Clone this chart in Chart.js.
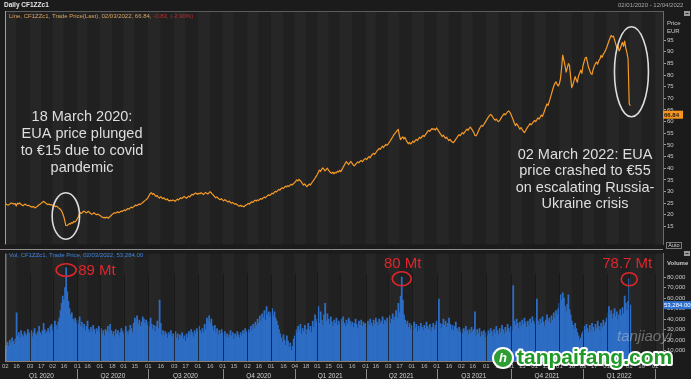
<!DOCTYPE html>
<html><head><meta charset="utf-8">
<script src="https://cdn.jsdelivr.net/npm/chart.js@4"></script>
<style>
html,body{margin:0;padding:0;background:#1b1b1b;}
#wrap{position:relative;width:691px;height:379px;overflow:hidden;background:#1b1b1b;}
#top{position:absolute;left:0;top:0;}
#bot{position:absolute;left:0;top:249px;}
</style></head><body>
<div id="wrap"><canvas id="top" width="691" height="249"></canvas><canvas id="bot" width="691" height="130"></canvas></div>
<script>
// ---------- categories (ICE trading days) ----------
const axisStart = '2020-01-02';
const axisEnd = '2022-04-12';
const holidays = ['2020-01-01','2020-04-10','2020-04-13','2020-12-25','2020-12-28',
  '2021-01-01','2021-04-02','2021-04-05','2021-12-27','2021-12-28'];

// ---------- price series (EUR), daily, 02/01/2020 .. 02/03/2022 ----------
const priceEUR = [
 // 2020 Jan
 24.4,24.6,24.3,24.2,24.5,24.9,25.1,24.8,24.6,24.9,23.8,25.0,24.7,25.1,24.5,24.2,23.9,24.3,24.6,24.2,23.9,24.1,
 // Feb
 23.8,23.5,23.3,23.6,23.2,23.0,23.4,23.8,24.2,24.5,24.9,25.3,25.8,25.5,25.1,24.7,24.4,24.6,24.3,24.4,
 // Mar
 24.1,23.8,23.9,23.5,23.7,23.2,22.8,22.4,21.9,20.8,19.5,17.6,15.4,15.3,15.8,16.2,16.0,16.7,16.4,17.2,16.9,17.4,
 // Apr
 18.2,19.1,20.3,20.9,20.6,21.2,21.6,21.3,20.8,21.1,21.5,21.0,20.6,20.2,20.5,20.9,20.4,20.0,20.3,20.1,
 // May
 19.8,19.5,19.1,18.8,18.9,18.6,19.0,18.8,18.6,19.2,19.6,20.1,20.5,20.9,20.7,21.0,21.3,20.9,21.2,21.6,21.4,
 // Jun
 21.8,22.1,21.8,22.3,22.7,22.4,22.9,23.3,23.0,23.4,23.8,24.2,23.9,24.3,24.6,24.4,24.8,25.2,25.6,26.0,26.4,26.8,
 // Jul
 27.5,28.4,29.2,29.4,28.8,29.1,28.5,27.9,28.3,27.6,27.2,27.8,27.4,26.9,27.3,26.8,26.4,26.8,26.2,25.9,26.3,26.0,26.4,
 // Aug
 26.1,25.8,26.3,26.7,26.4,26.9,27.3,27.0,27.4,27.9,27.5,27.1,27.6,28.0,27.7,28.3,28.8,28.5,29.0,29.4,29.1,
 // Sep
 28.8,29.3,29.0,29.5,29.2,28.7,29.1,29.6,29.3,28.9,29.4,29.9,29.5,28.9,28.4,27.8,27.3,27.7,27.2,26.8,26.5,26.9,
 // Oct
 26.4,26.0,26.5,26.2,25.8,25.5,25.9,25.4,25.0,25.3,24.9,24.5,24.8,24.3,24.0,23.7,24.1,23.6,23.8,23.4,23.9,24.2,
 // Nov
 24.5,24.9,24.6,25.2,25.6,25.3,25.9,26.3,25.9,26.4,26.1,26.6,27.0,26.7,27.2,27.6,27.3,27.8,28.2,28.6,28.3,
 // Dec
 28.8,29.3,29.0,29.6,30.1,29.8,30.4,30.9,30.6,31.2,31.6,31.3,31.8,32.3,32.0,32.5,32.2,32.7,33.1,32.8,33.4,
 // 2021 Jan
 33.8,34.4,35.0,34.6,35.2,34.7,34.1,33.4,32.8,33.3,32.6,32.1,32.7,33.2,32.8,33.5,34.2,34.9,35.6,36.4,
 // Feb
 37.2,38.1,39.2,38.6,39.5,40.1,39.6,38.9,39.4,40.0,39.3,38.6,38.1,37.8,38.3,37.6,38.2,38.0,38.7,38.4,
 // Mar
 39.1,38.5,39.4,40.3,41.2,42.1,42.8,42.2,41.6,42.3,42.9,42.2,41.5,41.0,41.6,42.2,42.7,42.3,42.9,43.4,42.8,43.3,43.9,
 // Apr
 44.2,43.7,44.4,45.0,44.5,45.3,45.9,46.4,46.0,46.6,47.3,47.9,48.5,48.1,48.8,49.5,48.9,49.6,50.2,49.8,
 // May
 50.4,51.1,51.8,52.6,53.4,54.3,54.9,55.5,56.1,56.7,54.2,52.3,52.9,53.5,52.6,53.2,52.1,51.2,50.5,51.1,50.4,
 // Jun
 50.9,51.6,51.1,51.8,52.4,51.9,52.6,53.3,52.8,53.5,54.1,53.6,54.3,55.0,55.7,56.3,55.8,56.5,57.1,56.6,56.9,56.4,
 // Jul
 57.3,56.6,55.8,55.1,54.4,53.6,54.2,53.5,52.8,53.3,52.5,51.9,52.4,51.7,51.2,51.0,51.6,52.4,53.1,53.8,54.4,54.0,
 // Aug
 54.7,55.3,54.8,55.5,56.2,56.8,56.3,57.1,57.6,57.0,56.2,55.4,54.2,53.9,54.6,55.8,56.9,57.7,58.4,58.0,58.8,59.6,
 // Sep
 60.4,61.2,62.0,62.6,63.1,62.7,61.9,61.2,60.6,61.1,60.4,60.0,60.5,61.3,62.1,62.8,63.4,62.9,63.6,64.2,64.6,64.1,
 // Oct
 63.2,62.0,60.8,59.4,58.3,59.1,58.5,57.6,56.8,57.5,56.6,55.9,55.3,56.1,57.0,57.8,58.4,59.2,58.6,59.3,59.9,
 // Nov
 60.5,60.0,60.8,61.6,61.1,61.9,62.8,62.3,63.5,64.9,66.3,67.6,67.0,68.6,70.2,71.9,73.6,75.2,76.4,77.1,76.0,75.3,
 // Dec
 76.2,78.4,83.1,88.6,86.4,84.2,81.3,83.0,84.9,84.1,79.2,74.6,75.8,77.4,79.3,78.1,76.9,79.6,80.8,82.1,80.7,
 // 2022 Jan
 84.0,85.8,87.4,87.6,85.3,83.1,81.9,80.6,80.3,82.4,83.8,84.9,85.6,84.7,86.2,86.9,88.4,87.6,88.9,89.7,90.6,
 // Feb
 91.8,93.2,94.6,95.9,97.0,96.4,96.7,95.1,93.4,91.8,92.6,90.4,91.2,92.8,94.1,92.3,94.6,91.6,89.6,86.9,
 // Mar
 67.67,66.84
];

// ---------- volume series (thousand lots), daily ----------
const volumeK = [
 // 2020 Jan
 11,15,18,14,20,17,22,19,16,21,46,24,27,22,29,25,23,28,26,24,30,27,
 // Feb
 25,29,23,27,31,26,24,28,33,27,25,29,36,30,26,28,31,27,33,35,
 // Mar
 29,32,38,34,30,37,41,48,55,62,58,70,89,66,57,50,44,46,40,38,41,36,
 // Apr
 39,35,42,33,37,31,35,29,33,38,30,27,32,28,34,30,26,31,29,33,
 // May
 27,31,26,29,24,30,28,33,27,35,29,25,28,23,30,26,29,24,27,31,28,
 // Jun
 26,30,33,28,25,29,34,31,27,36,41,38,43,35,39,33,37,42,40,36,39,34,
 // Jul
 37,32,41,35,30,34,28,33,38,31,58,36,25,29,24,28,26,22,27,25,29,23,26,
 // Aug
 24,28,22,26,20,25,23,27,21,24,19,26,22,28,25,30,27,23,29,26,31,
 // Sep
 28,33,29,26,31,27,35,30,41,38,43,36,40,33,29,34,27,31,25,29,26,30,
 // Oct
 27,24,28,23,26,22,25,29,24,27,21,26,23,28,25,22,27,24,29,26,31,28,
 // Nov
 25,30,27,33,29,35,31,37,34,40,36,43,38,45,41,48,39,52,44,47,42,
 // Dec
 46,50,43,47,41,38,34,30,26,22,18,25,20,15,24,19,13,17,10,14,21,
 // 2021 Jan
 24,30,27,33,29,35,26,31,28,34,25,30,36,29,33,27,38,32,44,37,
 // Feb
 40,52,36,47,39,34,44,55,38,45,40,35,42,37,33,39,36,41,34,38,
 // Mar
 35,40,37,42,36,33,39,35,41,38,34,37,32,36,40,35,31,38,34,39,33,37,35,
 // Apr
 36,31,38,34,40,36,33,39,35,41,37,34,40,36,38,42,35,39,37,41,
 // May
 38,43,36,40,45,39,42,48,41,55,46,62,80,58,44,39,35,38,32,36,30,
 // Jun
 34,29,37,31,35,28,33,30,36,32,29,34,31,37,33,30,35,28,32,36,30,34,
 // Jul
 38,33,59,36,31,35,40,34,38,32,36,41,35,30,34,29,33,37,31,28,32,27,
 // Aug
 30,26,31,28,33,29,25,30,27,32,28,30,47,24,30,26,31,23,28,25,29,22,
 // Sep
 27,24,29,26,31,28,23,30,26,33,29,25,31,27,34,30,26,32,28,35,31,27,
 // Oct
 33,29,72,38,34,40,36,31,37,33,39,35,41,37,32,38,34,40,36,42,38,
 // Nov
 35,41,59,38,34,40,36,42,37,33,39,44,38,41,36,43,39,46,41,48,44,50,
 // Dec
 55,63,58,65,60,52,47,54,63,49,44,38,34,30,36,31,27,24,20,22,26,
 // 2022 Jan
 28,33,30,35,31,27,34,29,36,32,28,35,31,38,33,29,36,32,39,34,37,
 // Feb
 41,46,52,44,48,40,45,50,42,47,39,44,49,43,51,45,62,55,48,57,
 // Mar
 78.7,53.284
];

// ---------- tick labels ----------
const dayTickDates = [
 '2020-01-02','2020-01-16','2020-02-03','2020-02-17','2020-03-02','2020-03-16','2020-04-01','2020-04-16',
 '2020-05-01','2020-05-18','2020-06-01','2020-06-15','2020-07-01','2020-07-16','2020-08-03','2020-08-17',
 '2020-09-01','2020-09-16','2020-10-01','2020-10-15','2020-11-02','2020-11-16','2020-12-01','2020-12-16',
 '2021-01-04','2021-01-18','2021-02-01','2021-02-15','2021-03-01','2021-03-16','2021-04-01','2021-04-16',
 '2021-05-03','2021-05-17','2021-06-01','2021-06-16','2021-07-01','2021-07-16','2021-08-02','2021-08-16',
 '2021-09-01','2021-09-16','2021-10-01','2021-10-15','2021-11-01','2021-11-15','2021-12-01','2021-12-16',
 '2022-01-03','2022-01-17','2022-02-01','2022-02-16','2022-03-01','2022-03-16','2022-04-01'
];
const quarterLabels = ['Q1 2020','Q2 2020','Q3 2020','Q4 2020','Q1 2021','Q2 2021','Q3 2021','Q4 2021','Q1 2022',''];
const quarterStarts = ['2020-01-02','2020-04-01','2020-07-01','2020-10-01','2021-01-04','2021-04-01','2021-07-01','2021-10-01','2022-01-03','2022-04-01'];
const priceTickLabels = [15,20,25,30,35,40,45,50,55,60,65,70,75,80,85,90,95];
const volumeTickLabels = [10,20,30,40,50,60,70,80];

// ---------- build trading-day categories ----------
function tradingDays(a, b) {
  const out = [];
  const d = new Date(a + 'T00:00:00Z'), e = new Date(b + 'T00:00:00Z');
  while (d <= e) {
    const w = d.getUTCDay(), s = d.toISOString().slice(0, 10);
    if (w !== 0 && w !== 6 && !holidays.includes(s)) out.push(s);
    d.setUTCDate(d.getUTCDate() + 1);
  }
  return out;
}
const dates = tradingDays(axisStart, axisEnd);
const tickSet = new Set(dayTickDates);
const monthStarts = dates.filter((d, i) => i > 0 && d.slice(5, 7) !== dates[i - 1].slice(5, 7));

const FONT = '"Liberation Sans", Arial, sans-serif';
Chart.defaults.font.family = FONT;

function stripes(ctx, a, x) {
  const px = dayTickDates.map(d => x.getPixelForValue(dates.indexOf(d)));
  px.push(a.right);
  ctx.fillStyle = '#262626';
  for (let i = 0; i < px.length - 1; i += 2) {
    const l = Math.max(px[i], a.left), r = Math.min(px[i + 1], a.right);
    if (r > l) ctx.fillRect(l, a.top, r - l, a.bottom - a.top);
  }
}
function ell(ctx, cx, cy, rx, ry, col, lw) {
  ctx.beginPath(); ctx.ellipse(cx, cy, rx, ry, 0, 0, Math.PI * 2);
  ctx.strokeStyle = col; ctx.lineWidth = lw; ctx.stroke();
}
function txt(ctx, s, x, y, font, col, align) {
  ctx.font = font; ctx.fillStyle = col; ctx.textAlign = align || 'left'; ctx.textBaseline = 'middle';
  ctx.fillText(s, x, y);
}

// ---------- annotations ----------
const whiteNotes = [
  { idx: 54, value: 19.5, rx: 13.7, ry: 23.3 },
  { idx: 556, value: 81.4, rx: 17, ry: 45 }
];
const noteText1 = ['18 March 2020:', 'EUA price plunged', 'to €15 due to covid', 'pandemic'];
const noteText2 = ['02 March 2022: EUA', 'price crashed to €55', 'on escalating Russia-', 'Ukraine crisis'];
const redNotes = [
  { idx: 54, value: 86.7, label: '89 Mt', rx: 10, ry: 6.3, dx: 12, dy: 0.5, align: 'left' },
  { idx: 352, value: 78.4, label: '80 Mt', rx: 9.5, ry: 7, dx: 1, dy: -14.5, align: 'center' },
  { idx: 554, value: 78, label: '78.7 Mt', rx: 8, ry: 6.5, dx: -2, dy: -15, align: 'center' }
];

const topDeco = {
  id: 'topDeco',
  beforeDraw(c) {
    const { ctx, chartArea: a, scales: { x } } = c;
    ctx.save();
    ctx.fillStyle = '#1b1b1b'; ctx.fillRect(0, 0, c.width, c.height);
    ctx.fillStyle = '#202020'; ctx.fillRect(a.left, a.top, a.right - a.left, a.bottom - a.top);
    stripes(ctx, a, x);
    ctx.restore();
  },
  afterDraw(c) {
    const { ctx, chartArea: a, scales: { x, y } } = c;
    ctx.save();
    // frame
    ctx.strokeStyle = '#5c5c5c'; ctx.lineWidth = 1;
    ctx.beginPath(); ctx.moveTo(a.left, a.top + 0.5); ctx.lineTo(a.right, a.top + 0.5); ctx.stroke();
    ctx.strokeStyle = '#a0a0a0';
    ctx.beginPath(); ctx.moveTo(a.left + 0.5, a.top); ctx.lineTo(a.left + 0.5, a.bottom); ctx.stroke();
    // header
    txt(ctx, 'Daily CF1ZZc1', 4, 5.5, 'bold 6.5px ' + FONT, '#e6e6e6');
    txt(ctx, '02/01/2020 - 12/04/2022', 618, 5.5, '6px ' + FONT, '#a8a8a8');
    const leg1 = 'Line, CF1ZZc1, Trade Price(Last), 02/03/2022, 66.84, ';
    txt(ctx, leg1, 9, 16, '6px ' + FONT, '#d9a35f');
    const w1 = ctx.measureText(leg1).width;
    txt(ctx, '-0.83, (-2.90%)', 9 + w1, 16, '6px ' + FONT, '#c8292c');
    // axis title
    txt(ctx, 'Price', 667, 23.5, '6px ' + FONT, '#c8c8c8');
    txt(ctx, 'EUR', 667, 31, '6px ' + FONT, '#c8c8c8');
    ctx.fillStyle = '#9a9a9a'; ctx.fillRect(684, 11, 6, 5);
    ctx.fillStyle = '#333'; ctx.fillRect(685.5, 13, 3, 1);
    // last price box
    const yp = y.getPixelForValue(priceEUR[priceEUR.length - 1]) + 9;
    ctx.fillStyle = '#f7941d'; ctx.fillRect(663, yp - 4, 20, 8);
    txt(ctx, priceEUR[priceEUR.length - 1].toFixed(2), 664, yp + 0.5, 'bold 6px ' + FONT, '#1a1a1a');
    // Auto button
    ctx.strokeStyle = '#7a7a7a'; ctx.strokeRect(666.5, 242.5, 15, 6);
    txt(ctx, 'Auto', 674, 245.8, '5.5px ' + FONT, '#cfcfcf', 'center');
    // annotations
    whiteNotes.forEach(n => ell(ctx, x.getPixelForValue(n.idx), y.getPixelForValue(n.value), n.rx, n.ry, '#dcdcdc', 1.6));
    noteText1.forEach((s, i) => txt(ctx, s, 82, 116.7 + i * 17.2, '14.5px ' + FONT, '#dedede', 'center'));
    noteText2.forEach((s, i) => txt(ctx, s, 585, 155 + i * 16.4, '14.5px ' + FONT, '#dedede', 'center'));
    ctx.restore();
  }
};

const botDeco = {
  id: 'botDeco',
  beforeDraw(c) {
    const { ctx, chartArea: a, scales: { x } } = c;
    ctx.save();
    ctx.fillStyle = '#1b1b1b'; ctx.fillRect(0, 0, c.width, c.height);
    ctx.fillStyle = '#202020'; ctx.fillRect(a.left, a.top, a.right - a.left, a.bottom - a.top);
    stripes(ctx, a, x);
    ctx.restore();
  },
  afterDatasetsDraw(c) {
    const { ctx, chartArea: a, scales: { x } } = c;
    ctx.save();
    ctx.strokeStyle = 'rgba(22,22,22,0.75)'; ctx.lineWidth = 1;
    monthStarts.forEach(d => {
      const px = Math.round(x.getPixelForValue(dates.indexOf(d))) + 0.5;
      ctx.beginPath(); ctx.moveTo(px, a.top + 20); ctx.lineTo(px, a.bottom); ctx.stroke();
    });
    ctx.restore();
  },
  afterDraw(c) {
    const { ctx, chartArea: a, scales: { x, y } } = c;
    ctx.save();
    // frame
    ctx.strokeStyle = '#8c8c8c'; ctx.lineWidth = 1;
    ctx.beginPath(); ctx.moveTo(0, 0.5); ctx.lineTo(a.right, 0.5); ctx.stroke();
    ctx.strokeStyle = '#a0a0a0';
    ctx.beginPath(); ctx.moveTo(a.left + 0.5, a.top); ctx.lineTo(a.left + 0.5, a.bottom); ctx.stroke();
    // legend + axis title
    txt(ctx, 'Vol, CF1ZZc1, Trade Price, 02/03/2022, 53,284.00', 9, 6.5, '6px ' + FONT, '#3d84dc');
    txt(ctx, 'Volume', 667, 14, 'bold 6px ' + FONT, '#c8c8c8');
    ctx.fillStyle = '#9a9a9a'; ctx.fillRect(684, 2, 6, 5);
    ctx.fillStyle = '#333'; ctx.fillRect(685.5, 4, 3, 1);
    // last volume box
    const lastV = volumeK[volumeK.length - 1];
    const yv = y.getPixelForValue(lastV);
    ctx.fillStyle = '#2f6fd0'; ctx.fillRect(663, yv - 4, 28, 8);
    txt(ctx, (lastV * 1000).toLocaleString('en-US', { minimumFractionDigits: 2 }), 664, yv + 0.5, '6px ' + FONT, '#ffffff');
    // quarter row
    const qx = quarterStarts.map(d => x.getPixelForValue(dates.indexOf(d)));
    qx.forEach((px, i) => {
      if (i > 0) {
        ctx.strokeStyle = '#8a8a8a';
        ctx.beginPath(); ctx.moveTo(Math.round(px) + 0.5, 120); ctx.lineTo(Math.round(px) + 0.5, 130); ctx.stroke();
      }
      if (quarterLabels[i] && i < qx.length - 1) {
        txt(ctx, quarterLabels[i], (px + qx[i + 1]) / 2, 127, '6.5px ' + FONT, '#d2d2d2', 'center');
      }
    });
    // red annotations
    redNotes.forEach(n => {
      const cx = x.getPixelForValue(n.idx), cy = y.getPixelForValue(n.value);
      ell(ctx, cx, cy, n.rx, n.ry, '#e0262b', 1.6);
      txt(ctx, n.label, cx + n.dx, cy + n.dy, '15px ' + FONT, '#e0262b', n.align);
    });
    // watermark
    ctx.globalAlpha = 0.45;
    txt(ctx, 'tanjiaoyi', 617, 88, 'italic 15px ' + FONT, '#cfcfcf');
    ctx.globalAlpha = 1;
    ctx.beginPath(); ctx.arc(503, 109, 10, 0, Math.PI * 2);
    ctx.fillStyle = '#2e9e34'; ctx.fill();
    ctx.lineWidth = 2; ctx.strokeStyle = '#ffffff'; ctx.stroke();
    txt(ctx, 'h', 503, 109.5, 'bold italic 13px ' + FONT, '#ffffff', 'center');
    ctx.font = 'bold 21px ' + FONT; ctx.textAlign = 'left'; ctx.textBaseline = 'middle';
    ctx.lineJoin = 'round'; ctx.lineWidth = 4; ctx.strokeStyle = '#ffffff';
    ctx.strokeText('tanpaifang.com', 517, 109);
    ctx.fillStyle = '#1f9a27'; ctx.fillText('tanpaifang.com', 517, 109);
    ctx.restore();
  }
};

const topChart = new Chart(document.getElementById('top'), {
  type: 'line',
  data: {
    labels: dates,
    datasets: [{ data: priceEUR, borderColor: '#f59a26', borderWidth: 1.2, pointRadius: 0, tension: 0, borderJoinStyle: 'round' }]
  },
  options: {
    responsive: false, animation: false, maintainAspectRatio: false,
    layout: { padding: { left: 5, top: 11, right: 0, bottom: 0 } },
    plugins: { legend: { display: false }, tooltip: { enabled: false } },
    scales: {
      x: { type: 'category', offset: false, display: false },
      y: {
        position: 'right', min: 7.3, max: 107.5,
        afterFit: s => { s.width = 28; },
        grid: { drawOnChartArea: false, drawTicks: true, tickLength: 3, color: '#9a9a9a' },
        border: { display: true, color: '#6a6a6a' },
        ticks: {
          stepSize: 5, padding: 1, color: '#c8c8c8', font: { size: 6 },
          callback: v => priceTickLabels.includes(v) ? String(v) : null
        }
      }
    }
  },
  plugins: [topDeco]
});

const botChart = new Chart(document.getElementById('bot'), {
  type: 'bar',
  data: {
    labels: dates,
    datasets: [{ data: volumeK, backgroundColor: '#2d6dc4', borderWidth: 0, barPercentage: 1, categoryPercentage: 1 }]
  },
  options: {
    responsive: false, animation: false, maintainAspectRatio: false,
    layout: { padding: { left: 5, top: 1, right: 0, bottom: 0 } },
    plugins: { legend: { display: false }, tooltip: { enabled: false } },
    scales: {
      x: {
        type: 'category', offset: false, position: 'bottom',
        afterFit: s => { s.height = 18; },
        grid: { display: false, drawTicks: false },
        border: { display: true, color: '#8c8070' },
        ticks: {
          autoSkip: false, maxRotation: 0, minRotation: 0, padding: 2, color: '#b8b8b8', font: { size: 6 },
          callback: function (v) { const d = this.getLabelForValue(v); return tickSet.has(d) ? d.slice(8, 10) : null; }
        }
      },
      y: {
        position: 'right', min: 0, max: 102.4,
        afterFit: s => { s.width = 28; },
        grid: { drawOnChartArea: false, drawTicks: true, tickLength: 3, color: '#9a9a9a' },
        border: { display: true, color: '#6a6a6a' },
        ticks: {
          stepSize: 10, padding: 1, color: '#c8c8c8', font: { size: 6 },
          callback: v => volumeTickLabels.includes(v) ? (v * 1000).toLocaleString('en-US') : null
        }
      }
    }
  },
  plugins: [botDeco]
});
</script>
</body></html>
